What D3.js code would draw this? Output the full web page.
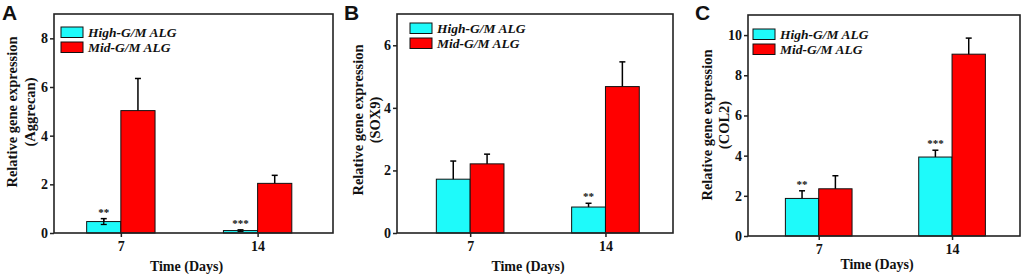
<!DOCTYPE html>
<html><head><meta charset="utf-8">
<script src="https://cdn.jsdelivr.net/npm/d3@7"></script>
<style>body{margin:0;background:#fff}svg{display:block}</style>
</head><body>
<svg id="c" width="1024" height="274"></svg>
<script>
// ---- data ----
const categories = ["7", "14"];
const seriesNames = ["High-G/M ALG", "Mid-G/M ALG"];
const panelLetters = ["A", "B", "C"];
const geneNames = ["Aggrecan", "SOX9", "COL2"];

const aggrecanHigh = [0.47, 0.10];
const aggrecanHighErr = [0.12, 0.03];
const aggrecanMid = [5.03, 2.04];
const aggrecanMidErr = [1.32, 0.33];
const aggrecanStars = ["**", "***"];
const aggrecanTicks = [0, 2, 4, 6, 8];

const sox9High = [1.72, 0.83];
const sox9HighErr = [0.58, 0.12];
const sox9Mid = [2.21, 4.68];
const sox9MidErr = [0.31, 0.79];
const sox9Stars = ["", "**"];
const sox9Ticks = [0, 2, 4, 6];

const col2High = [1.87, 3.93];
const col2HighErr = [0.38, 0.34];
const col2Mid = [2.35, 9.05];
const col2MidErr = [0.65, 0.80];
const col2Stars = ["**", "***"];
const col2Ticks = [0, 2, 4, 6, 8, 10];

const yMaxes = [9, 7, 11];
const xLabel = "Time (Days)";
const yLabel = "Relative gene expression";

// ---- layout ----
const panels = [
  {L: 54, R: 333, T: 14, B: 233, align: 0.47, yl1: 12, yl2: 30, ylc: 112, lx: 61, ly: 27, tx: 2, xly: 271},
  {L: 397, R: 673, T: 14, B: 233, align: 0.52, yl1: 358, yl2: 375, ylc: 120, lx: 410, ly: 23, tx: 344, xly: 271},
  {L: 748, R: 1020, T: 15, B: 236, align: 0.51, yl1: 707, yl2: 724, ylc: 125, lx: 753, ly: 29, tx: 695, xly: 269}
];
const data = [
  {high: aggrecanHigh, highErr: aggrecanHighErr, mid: aggrecanMid, midErr: aggrecanMidErr, stars: aggrecanStars, ticks: aggrecanTicks},
  {high: sox9High, highErr: sox9HighErr, mid: sox9Mid, midErr: sox9MidErr, stars: sox9Stars, ticks: sox9Ticks},
  {high: col2High, highErr: col2HighErr, mid: col2Mid, midErr: col2MidErr, stars: col2Stars, ticks: col2Ticks}
];
const colors = ["#1EFAFA", "#FF0000"];
const serif = "'Liberation Serif', 'Times New Roman', serif";

const svg = d3.select("#c");

panels.forEach((p, i) => {
  const d = data[i];
  const g = svg.append("g");
  const x = d3.scalePoint().domain(categories).range([p.L, p.R]).padding(0.52).align(p.align);
  const y = d3.scaleLinear().domain([0, yMaxes[i]]).range([p.B, p.T]);
  const bw = x.step() * 0.25;

  const series = [
    {vals: d.high, errs: d.highErr, off: -1, color: colors[0]},
    {vals: d.mid, errs: d.midErr, off: 0, color: colors[1]}
  ];
  series.forEach(s => {
    const eb = g.append("g");
    categories.forEach((c, k) => {
      const cx = x(c) + (s.off + 0.5) * bw;
      const top = y(s.vals[k] + s.errs[k]);
      const bot = y(Math.max(0, s.vals[k] - s.errs[k]));
      eb.append("line").attr("x1", cx).attr("x2", cx).attr("y1", top).attr("y2", bot)
        .attr("stroke", "#000").attr("stroke-width", 1.5);
      eb.append("line").attr("x1", cx - 3).attr("x2", cx + 3).attr("y1", top).attr("y2", top)
        .attr("stroke", "#000").attr("stroke-width", 1.5);
    });
    g.append("g").selectAll("rect").data(s.vals).join("rect")
      .attr("x", (v, k) => x(categories[k]) + s.off * bw)
      .attr("y", v => y(v))
      .attr("width", bw)
      .attr("height", v => p.B - y(v))
      .attr("fill", s.color)
      .attr("stroke", "#111").attr("stroke-width", 1);
    if (i === 0 && s.off === -1) {
      categories.forEach((c, k) => {
        const cx = x(c) - 0.5 * bw;
        const top = y(s.vals[k] + s.errs[k]);
        const bot = y(Math.max(0, s.vals[k] - s.errs[k]));
        g.append("line").attr("x1", cx).attr("x2", cx).attr("y1", top).attr("y2", bot)
          .attr("stroke", "#000").attr("stroke-width", 1.3);
        g.append("line").attr("x1", cx - 3).attr("x2", cx + 3).attr("y1", bot).attr("y2", bot)
          .attr("stroke", "#000").attr("stroke-width", 1.3);
      });
    }
  });

  g.append("g").selectAll("text").data(d.stars).join("text")
    .attr("x", (s, k) => x(categories[k]) - 0.5 * bw)
    .attr("y", (s, k) => y(d.high[k] + d.highErr[k]) - 3)
    .attr("text-anchor", "middle")
    .attr("font-family", serif).attr("font-weight", "bold").attr("font-size", 11).attr("fill", "#111")
    .text(s => s);

  g.append("rect").attr("x", p.L).attr("y", p.T).attr("width", p.R - p.L).attr("height", p.B - p.T)
    .attr("fill", "none").attr("stroke", "#222").attr("stroke-width", 1.6);

  const ya = g.append("g").attr("transform", `translate(${p.L},0)`)
    .call(d3.axisLeft(y).tickValues(d.ticks).tickSize(4).tickPadding(2).tickFormat(d3.format("d")));
  const xa = g.append("g").attr("transform", `translate(0,${p.B})`)
    .call(d3.axisBottom(x).tickSize(4).tickPadding(4));
  [ya, xa].forEach(a => {
    a.select(".domain").remove();
    a.selectAll("line").attr("stroke", "#222").attr("stroke-width", 1.5);
    a.selectAll("text").attr("font-family", serif).attr("font-weight", "bold")
      .attr("font-size", 14).attr("fill", "#111");
  });

  g.append("text").attr("x", (p.L + p.R) / 2 - 7).attr("y", p.xly)
    .attr("text-anchor", "middle").attr("font-family", serif).attr("font-weight", "bold")
    .attr("font-size", 14).attr("fill", "#111").text(xLabel);
  [[yLabel, p.yl1], ["(" + geneNames[i] + ")", p.yl2]].forEach(([t, xx]) => {
    g.append("text").attr("transform", `translate(${xx},${p.ylc}) rotate(-90)`)
      .attr("text-anchor", "middle").attr("dominant-baseline", "central")
      .attr("font-family", serif).attr("font-weight", "bold")
      .attr("font-size", 14.5).attr("fill", "#111").text(t);
  });

  seriesNames.forEach((n, k) => {
    const ly = p.ly + k * 15;
    g.append("rect").attr("x", p.lx).attr("y", ly).attr("width", 22).attr("height", 10.5)
      .attr("fill", colors[k]).attr("stroke", "#111").attr("stroke-width", 1);
    g.append("text").attr("x", p.lx + 27).attr("y", ly + 9.5)
      .attr("font-family", serif).attr("font-weight", "bold").attr("font-style", "italic")
      .attr("font-size", 13.5).attr("fill", "#111").text(n);
  });

  g.append("text").attr("x", p.tx).attr("y", 20)
    .attr("font-family", "'Liberation Sans', Arial, sans-serif").attr("font-weight", "bold")
    .attr("font-size", 21).attr("fill", "#111").text(panelLetters[i]);
});
</script>
</body></html>
